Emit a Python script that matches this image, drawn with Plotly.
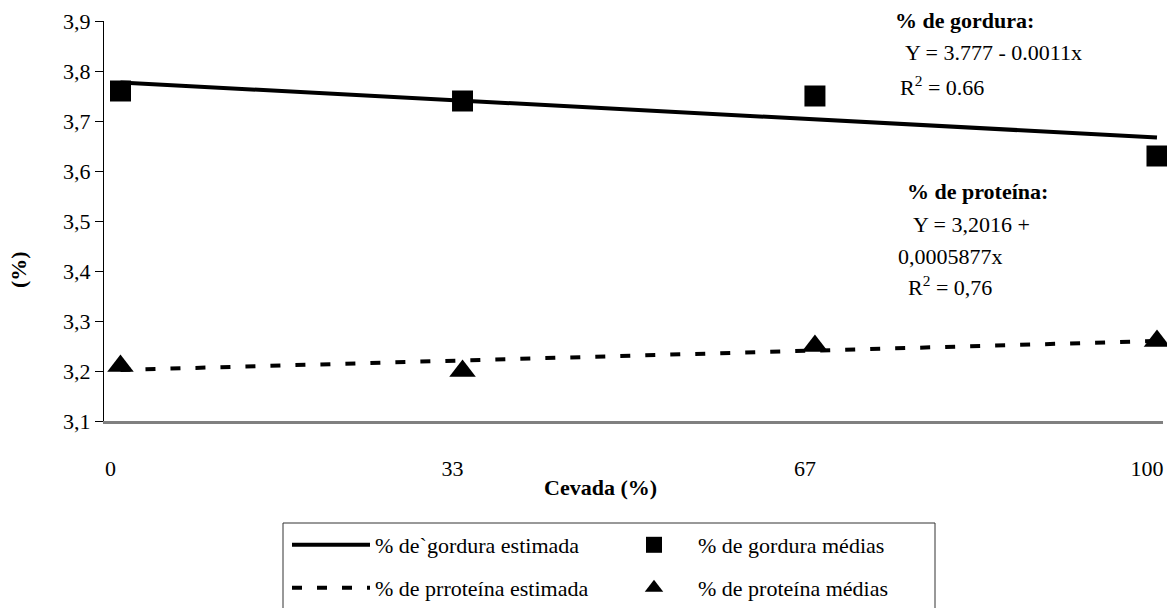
import plotly.graph_objects as go

# ---- data ----
cevada = [0, 33, 67, 100]
gordura_media = [3.76, 3.74, 3.75, 3.63]
proteina_media = [3.21, 3.20, 3.25, 3.26]
gordura_estimada = [3.777, 3.741, 3.703, 3.667]
proteina_estimada = [3.202, 3.221, 3.241, 3.260]

x_ticks = [0, 33, 67, 100]
x_labels = ["0", "33", "67", "100"]
y_ticks = [3.1, 3.2, 3.3, 3.4, 3.5, 3.6, 3.7, 3.8, 3.9]
y_labels = ["3,1", "3,2", "3,3", "3,4", "3,5", "3,6", "3,7", "3,8", "3,9"]

FONT = "Liberation Serif"
FS = 22
W, H = 1167, 608
L, R, T, B = 104, 4, 21, 187
PW, PH = W - L - R, H - T - B


def px(x):
    return (x - L) / PW


def py(y):
    return (H - B - y) / PH


fig = go.Figure()

fig.add_trace(go.Scatter(
    x=cevada, y=gordura_estimada, mode="lines", name="% de`gordura estimada",
    line=dict(color="black", width=4), legend="legend"))
fig.add_trace(go.Scatter(
    x=cevada, y=gordura_media, mode="markers", name="% de gordura médias",
    marker=dict(symbol="square", size=21, color="black"), cliponaxis=False,
    legend="legend"))
fig.add_trace(go.Scatter(
    x=cevada, y=proteina_estimada, mode="lines", name="% de prroteína estimada",
    line=dict(color="black", width=4, dash="10px,15px"), legend="legend2"))
fig.add_trace(go.Scatter(
    x=cevada, y=proteina_media, mode="markers", name="% de proteína médias",
    marker=dict(symbol="triangle-up", size=23, color="black"), cliponaxis=False,
    legend="legend2"))

legend_common = dict(
    orientation="h", xanchor="left", yanchor="middle", x=px(287),
    font=dict(family=FONT, size=FS, color="black"),
    bgcolor="rgba(0,0,0,0)", borderwidth=0,
    entrywidth=230, entrywidthmode="pixels", itemwidth=78,
    itemclick=False, itemdoubleclick=False,
)

annotations = [
    dict(text="<b>% de gordura:</b>", x=px(893), y=py(20)),
    dict(text="Y = 3.777 - 0.0011x", x=px(903), y=py(52)),
    dict(text="R<sup>2</sup> = 0.66", x=px(898), y=py(86)),
    dict(text="<b>% de proteína:</b>", x=px(905), y=py(191)),
    dict(text="Y = 3,2016 +", x=px(911), y=py(224)),
    dict(text="0,0005877x", x=px(896), y=py(256)),
    dict(text="R<sup>2</sup> = 0,76", x=px(906), y=py(286)),
]
for a in annotations:
    a.update(xref="paper", yref="paper", xanchor="left", yanchor="middle",
             showarrow=False, font=dict(family=FONT, size=FS, color="black"))

annotations.append(dict(text="<b>Cevada (%)</b>", x=px(600), y=py(487),
                        xref="paper", yref="paper", xanchor="center", yanchor="middle",
                        showarrow=False, font=dict(family=FONT, size=FS, color="black")))
annotations.append(dict(text="<b>(%)</b>", x=px(18), y=py(270), textangle=-90,
                        xref="paper", yref="paper", xanchor="center", yanchor="middle",
                        showarrow=False, font=dict(family=FONT, size=FS, color="black")))

fig.update_layout(
    template="none",
    width=W, height=H,
    margin=dict(l=L, r=R, t=T, b=B, autoexpand=False),
    paper_bgcolor="white", plot_bgcolor="white",
    font=dict(family=FONT, size=FS, color="black"),
    showlegend=True,
    legend=dict(legend_common, y=py(545)),
    legend2=dict(legend_common, y=py(588)),
    annotations=annotations,
    shapes=[dict(type="rect", xref="paper", yref="paper",
                 x0=px(283), x1=px(935), y0=py(523), y1=py(620),
                 line=dict(color="#333333", width=1), fillcolor="rgba(0,0,0,0)")],
    xaxis=dict(
        range=[-1.59, 100.58], tickvals=x_ticks, ticktext=x_labels,
        showline=True, linecolor="#808080", linewidth=3,
        ticks="", showgrid=False, zeroline=False, automargin=False,
        ticklabelstandoff=26, ticklabelshift=-10, ticklabeloverflow="allow",
        tickfont=dict(family=FONT, size=FS, color="black"),
    ),
    yaxis=dict(
        range=[3.1, 3.9], tickvals=y_ticks, ticktext=y_labels,
        showline=True, linecolor="black", linewidth=1,
        ticks="outside", ticklen=8, tickwidth=1, tickcolor="black",
        showgrid=False, zeroline=False, automargin=False,
        tickfont=dict(family=FONT, size=FS, color="black"),
    ),
)

fig.write_html(
    "out.html",
    config={"displayModeBar": False, "staticPlot": True},
    post_script="document.body.style.margin='0';document.body.style.overflow='hidden';",
)
